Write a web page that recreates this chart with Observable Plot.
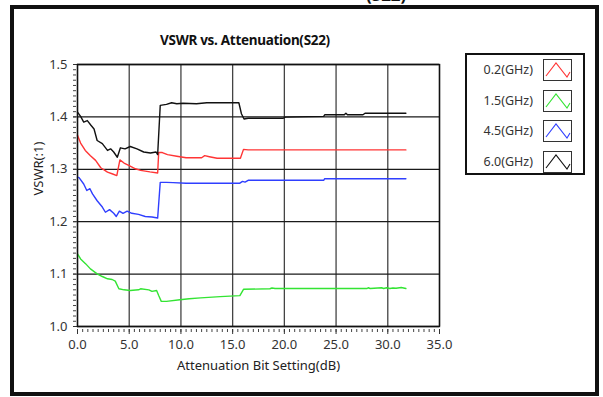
<!DOCTYPE html>
<html>
<head>
<meta charset="utf-8">
<script src="https://cdn.jsdelivr.net/npm/d3@7"></script>
<script src="https://cdn.jsdelivr.net/npm/@observablehq/plot@0.6"></script>
<style>
  body { margin: 0; background: #fff; }
  #wrap { position: relative; width: 603px; height: 397px; overflow: hidden; background: #fff; font-family: "Noto Sans", sans-serif; }
  #wrap svg { position: absolute; left: 0; top: 0; }
  .border { position: absolute; left: 10px; top: 5px; width: 581px; height: 383px; border: 4px solid #111; }
  .head { position: absolute; left: 366px; top: -14px; font: bold 17px/17px "Noto Sans", sans-serif; color: #111; white-space: nowrap; }
  .title { position: absolute; left: 0; width: 490px; top: 31px; text-align: center; font: bold 13.5px "Noto Sans", sans-serif; color: #111; letter-spacing: -0.3px; }
  .legend { position: absolute; left: 465px; top: 53px; width: 116px; height: 118px; border: 2px solid #111; }
  .row { position: absolute; left: 0; width: 116px; height: 22px; }
  .row .lab { position: absolute; right: 50px; top: 2px; font-size: 12.5px; color: #333; }
  .row svg { position: absolute !important; left: 76px !important; top: 0 !important; }
</style>
</head>
<body>
<div id="wrap"></div>
<script>
// Attenuation bit setting (dB) and VSWR for each test frequency
const freqLabels = ["0.2(GHz)", "1.5(GHz)", "4.5(GHz)", "6.0(GHz)"];
const freqColors = ["#ff3535", "#33e433", "#2f3fff", "#111111"];

const atten02 = [0, 0.3, 0.75, 1.25, 1.75, 2.25, 2.9, 3.4, 3.8, 4.1, 4.5, 5.0, 5.6, 6.1, 7.0, 7.75, 7.85, 8.2, 8.7, 9.6, 10.5, 12.0, 12.3, 12.75, 13.5, 15.75, 16.05, 16.5, 31.75];
const vswr02  = [1.365, 1.350, 1.336, 1.326, 1.317, 1.303, 1.2945, 1.291, 1.288, 1.318, 1.312, 1.307, 1.301, 1.298, 1.295, 1.293, 1.332, 1.332, 1.328, 1.325, 1.322, 1.322, 1.326, 1.324, 1.321, 1.321, 1.338, 1.337, 1.337];

const atten15 = [0, 0.3, 0.8, 1.25, 1.9, 2.4, 2.9, 3.35, 3.65, 4.0, 4.5, 5.1, 5.9, 6.1, 6.9, 7.2, 7.65, 7.85, 8.1, 8.6, 9.9, 10.8, 11.9, 13.8, 15.7, 16.05, 18.6, 18.8, 19.1, 28.0, 28.1, 28.3, 29.4, 29.6, 29.9, 30.2, 30.5, 30.8, 31.3, 31.75];
const vswr15  = [1.1387, 1.129, 1.1195, 1.110, 1.1005, 1.0954, 1.091, 1.0897, 1.0865, 1.072, 1.070, 1.0687, 1.070, 1.072, 1.070, 1.067, 1.0687, 1.059, 1.048, 1.048, 1.051, 1.053, 1.0547, 1.057, 1.059, 1.071, 1.072, 1.0735, 1.0725, 1.0725, 1.074, 1.0725, 1.074, 1.0725, 1.074, 1.0725, 1.0735, 1.073, 1.0745, 1.0725];

const atten45 = [0, 0.15, 0.6, 0.9, 1.2, 1.45, 1.9, 2.4, 2.7, 3.1, 3.5, 3.75, 4.05, 4.4, 4.8, 5.25, 5.9, 6.55, 7.2, 7.75, 8.0, 8.6, 9.25, 10.5, 15.7, 15.95, 16.2, 16.5, 23.8, 23.9, 31.75];
const vswr45  = [1.285, 1.284, 1.272, 1.2595, 1.263, 1.253, 1.240, 1.228, 1.218, 1.223, 1.216, 1.210, 1.220, 1.216, 1.220, 1.216, 1.214, 1.210, 1.209, 1.207, 1.275, 1.275, 1.2745, 1.2735, 1.2735, 1.277, 1.2755, 1.279, 1.279, 1.282, 1.282];

const atten60 = [0, 0.3, 0.6, 0.95, 1.3, 1.6, 1.9, 2.4, 2.9, 3.2, 3.5, 3.85, 4.15, 4.6, 5.1, 5.75, 6.4, 7.05, 7.6, 7.75, 8.0, 8.6, 9.1, 9.6, 10.2, 11.5, 12.5, 15.6, 15.85, 16.1, 16.5, 19.9, 20.1, 22.3, 23.8, 23.9, 25.8, 25.95, 26.1, 27.6, 27.8, 31.75];
const vswr60  = [1.409, 1.401, 1.390, 1.393, 1.384, 1.377, 1.355, 1.349, 1.336, 1.339, 1.333, 1.323, 1.341, 1.339, 1.3435, 1.339, 1.333, 1.331, 1.333, 1.328, 1.422, 1.424, 1.427, 1.425, 1.426, 1.425, 1.427, 1.427, 1.406, 1.396, 1.3975, 1.3975, 1.3995, 1.4005, 1.401, 1.404, 1.404, 1.407, 1.404, 1.404, 1.407, 1.407];

const xTicks = [0, 5, 10, 15, 20, 25, 30, 35];
const yTicks = [1.0, 1.1, 1.2, 1.3, 1.4, 1.5];

const seriesX = [atten02, atten15, atten45, atten60];
const seriesY = [vswr02, vswr15, vswr45, vswr60];
const rows = seriesX.flatMap((xs, i) => xs.map((x, j) => ({freq: freqLabels[i], atten: x, vswr: seriesY[i][j]})));

const xMinor = d3.range(0, 35.001, 0.5);
const yMinor = d3.range(100, 151).map(d => d / 100);

const chart = Plot.plot({
  width: 603,
  height: 397,
  marginLeft: 77,
  marginRight: 164,
  marginTop: 64,
  marginBottom: 71,
  style: {fontFamily: "Noto Sans, sans-serif", fontSize: "13px", color: "#333", background: "transparent"},
  x: {domain: [0, 35], label: null},
  y: {domain: [1.0, 1.5], label: null},
  color: {domain: freqLabels, range: freqColors},
  marks: [
    Plot.gridX(xTicks, {stroke: "#444", strokeOpacity: 1, strokeWidth: 1.3}),
    Plot.gridY(yTicks, {stroke: "#1a1a1a", strokeOpacity: 1, strokeWidth: 1.3}),
    Plot.axisX(xMinor, {tickSize: 3, tickFormat: () => "", dy: 3, stroke: "#444", label: null}),
    Plot.axisX(xTicks, {tickSize: 5, tickPadding: 5, dy: 3, tickFormat: d3.format(".1f"), label: null, stroke: "#333"}),
    Plot.axisY(yMinor, {tickSize: 3, tickFormat: () => "", dx: -1, stroke: "#444", label: null}),
    Plot.axisY(yTicks, {tickSize: 4, tickPadding: 6, tickFormat: d3.format(".1f"), label: null, stroke: "#333"}),
    Plot.line(rows, {x: "atten", y: "vswr", z: "freq", stroke: "freq", strokeWidth: 1.4, curve: "linear"}),
    Plot.frame({stroke: "#111", strokeWidth: 1.4}),
    Plot.text(["Attenuation Bit Setting(dB)"], {frameAnchor: "bottom", dy: 43, text: d => d, fill: "#222", fontSize: 13}),
    Plot.text(["VSWR(:1)"], {frameAnchor: "left", dx: -39, rotate: -90, text: d => d, fill: "#222", fontSize: 13})
  ]
});

const wrap = document.getElementById("wrap");
wrap.appendChild(chart);

// page heading above the panel, mostly scrolled off the top edge
const head = document.createElement("div");
head.className = "head";
head.textContent = "(S22)";
wrap.appendChild(head);

const border = document.createElement("div");
border.className = "border";
wrap.appendChild(border);

const title = document.createElement("div");
title.className = "title";
title.textContent = "VSWR vs. Attenuation(S22)";
wrap.appendChild(title);

// legend: label plus a boxed zigzag swatch in the series colour
const legend = document.createElement("div");
legend.className = "legend";
freqLabels.forEach((lab, i) => {
  const row = document.createElement("div");
  row.className = "row";
  row.style.top = (4 + i * 30.5) + "px";
  const t = document.createElement("div");
  t.className = "lab";
  t.textContent = lab;
  row.appendChild(t);
  const sw = d3.create("svg").attr("width", 29).attr("height", 22);
  sw.append("rect").attr("x", 0.5).attr("y", 0.5).attr("width", 28).attr("height", 21)
    .attr("fill", "#fff").attr("stroke", "#333");
  sw.append("polyline").attr("points", "3,17 13,4 24,18 27,13")
    .attr("fill", "none").attr("stroke", freqColors[i]).attr("stroke-width", 1.1);
  row.appendChild(sw.node());
  legend.appendChild(row);
});
wrap.appendChild(legend);
</script>
</body>
</html>
